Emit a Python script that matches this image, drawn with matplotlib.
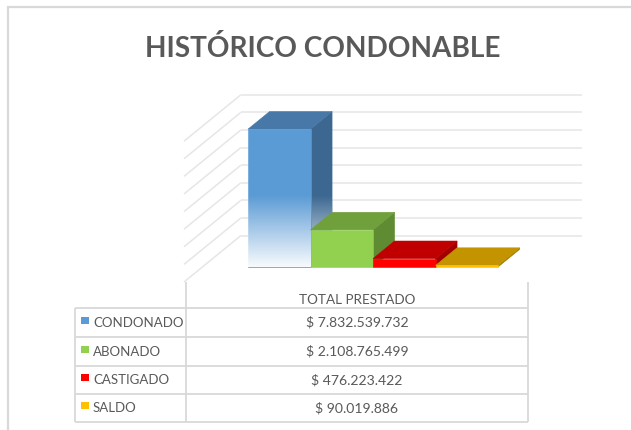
import numpy as np
import matplotlib
matplotlib.use("Agg")
import matplotlib.pyplot as plt
from matplotlib.patches import Polygon, Rectangle

# ---- data -------------------------------------------------------------
title = "HISTÓRICO CONDONABLE"
column_header = "TOTAL PRESTADO"
categories = ["CONDONADO", "ABONADO", "CASTIGADO", "SALDO"]
values = [7832539732, 2108765499, 476223422, 90019886]
axis_max = 8e9
grid_step = 1e9

# ---- styling ----------------------------------------------------------
front_colors = ["#5B9BD5", "#92D050", "#FF0000", "#FFC000"]
top_colors = ["#4878A8", "#70A03C", "#C00000", "#C49400"]
side_colors = ["#3B6791", "#5F8B32", "#A20000", "#A07A00"]
text_color = "#595959"
grid_color = "#E6E6E6"
line_color = "#D9D9D9"
label_font = ["Lato", "DejaVu Sans"]
title_font = ["Lato", "DejaVu Sans"]

W, H = 631, 430
fig = plt.figure(figsize=(W / 100, H / 100), dpi=100)
fig.patch.set_facecolor("white")

# background axes in pixel units (frame, title, data table)
bg = fig.add_axes([0, 0, 1, 1])
bg.set_xlim(0, W)
bg.set_ylim(H, 0)
bg.axis("off")

# ---- 3D column area ---------------------------------------------------
# pixel geometry of the plot area
px_per_cat = 62.5
px_per_val = 17.6 / 1e9
base_px = 267                       # pixel of value 0 on the bars' front
xlim = (-1.7, 5.1)
ylim = (-1.2e9, 10.2e9)
left_px = 248 + (xlim[0] + 0.5) * px_per_cat
right_px = 248 + (xlim[1] + 0.5) * px_per_cat
bottom_px = base_px - ylim[0] * px_per_val
top_px = base_px - ylim[1] * px_per_val
ax = fig.add_axes([left_px / W, (H - bottom_px) / H,
                   (right_px - left_px) / W, (bottom_px - top_px) / H])
ax.axis("off")

# oblique projection: one depth unit moves right by dxd categories and up by dyd
dxd, dyd = 0.345, 1.0e9
floor_left, floor_right = -1.23, 4.23
depth_front, depth_back = -0.85, 1.78
bar_width = 1.0

def proj(x, v, d):
    return x + d * dxd, v + d * dyd

# walls: back wall gridlines and side wall diagonals
grid_vals = np.arange(0, axis_max + grid_step / 2, grid_step)
for v in grid_vals:
    bx0, by = proj(floor_left, v, depth_back)
    bx1, _ = proj(floor_right, v, depth_back)
    fx0, fy = proj(floor_left, v, depth_front)
    ax.plot([bx0, bx1], [by, by], color=grid_color, lw=1.1, zorder=1,
            solid_capstyle="butt")
    ax.plot([fx0, bx0], [fy, by], color=grid_color, lw=1.1, zorder=1,
            solid_capstyle="butt")

def white_fade(face, xmin, xmax, ymin, ymax, fade_top):
    """White overlay whose opacity grows toward value 0."""
    n = 200
    ys = np.linspace(ymin, ymax, n)
    alpha = np.clip((fade_top - ys) / fade_top, 0, 1) * 0.96
    img = np.ones((n, 2, 4))
    img[:, :, 3] = alpha[:, None]
    im = ax.imshow(img, extent=(xmin, xmax, ymin, ymax), origin="lower",
                   aspect="auto", interpolation="bilinear",
                   zorder=face.get_zorder() + 0.1)
    im.set_clip_path(face)

positions = np.arange(len(categories))
bars = ax.bar(positions, values, width=bar_width, color=front_colors,
              linewidth=0.4, zorder=5)
for i, (bar, v) in enumerate(zip(bars, values)):
    xa = bar.get_x()
    xb = xa + bar.get_width()
    z = 2 + i * 1.0
    side = Polygon([proj(xb, 0, 0), proj(xb, v, 0), proj(xb, v, 1), proj(xb, 0, 1)],
                   closed=True, facecolor=side_colors[i], edgecolor=side_colors[i],
                   lw=0.4, zorder=z)
    top = Polygon([proj(xa, v, 0), proj(xb, v, 0), proj(xb, v, 1), proj(xa, v, 1)],
                  closed=True, facecolor=top_colors[i], edgecolor=top_colors[i],
                  lw=0.4, zorder=z + 0.2)
    ax.add_patch(side)
    ax.add_patch(top)
    bar.set_edgecolor(front_colors[i])
    bar.set_zorder(z + 0.5)
    if i == 0:
        fade_top = 0.52 * v
        white_fade(bar, xa, xb, 0, v, fade_top)
        white_fade(side, xb, xb + dxd, 0, v + dyd, fade_top)

ax.set_xlim(*xlim)
ax.set_ylim(*ylim)

# ---- title ------------------------------------------------------------
bg.text(322.8, 56.7, title, ha="center", va="baseline", fontsize=20.2,
        fontweight="bold", color=text_color, family=title_font)

# ---- chart frame ------------------------------------------------------
bg.plot([8, 8, W + 5], [H + 5, 7, 7], color=line_color, lw=1.6,
        solid_joinstyle="miter")

# ---- data table -------------------------------------------------------
tbl_left, tbl_div, tbl_right = 75, 185.7, 528
head_top = 282
row_lines = [308.3, 336.7, 365.7, 394.0, 422.3]
lkw = dict(color=line_color, lw=1.3, solid_capstyle="butt")
for y in row_lines:
    bg.plot([tbl_left, tbl_right], [y, y], **lkw)
bg.plot([tbl_left, tbl_left], [row_lines[0], row_lines[-1]], **lkw)
bg.plot([tbl_div, tbl_div], [head_top, row_lines[-1]], **lkw)
bg.plot([tbl_right, tbl_right], [head_top, row_lines[-1]], **lkw)

val_x = (tbl_div + tbl_right) / 2
bg.text(val_x, 304.0, column_header, ha="center", va="baseline",
        fontsize=9.7, color=text_color, family=label_font)
for i, (name, v) in enumerate(zip(categories, values)):
    y_base = row_lines[i + 1] - 10.0
    key = Rectangle((80.7, y_base - 10.0), 8, 7, facecolor=front_colors[i],
                    edgecolor="none")
    bg.add_patch(key)
    bg.text(93, y_base, name, ha="left", va="baseline", fontsize=9.5,
            color=text_color, family=label_font)
    label = "$ " + f"{v:,}".replace(",", ".")
    bg.text(val_x, y_base, label, ha="center", va="baseline", fontsize=10.1,
            color=text_color, family=label_font)

fig.savefig("out.png", dpi=100, facecolor="white")
